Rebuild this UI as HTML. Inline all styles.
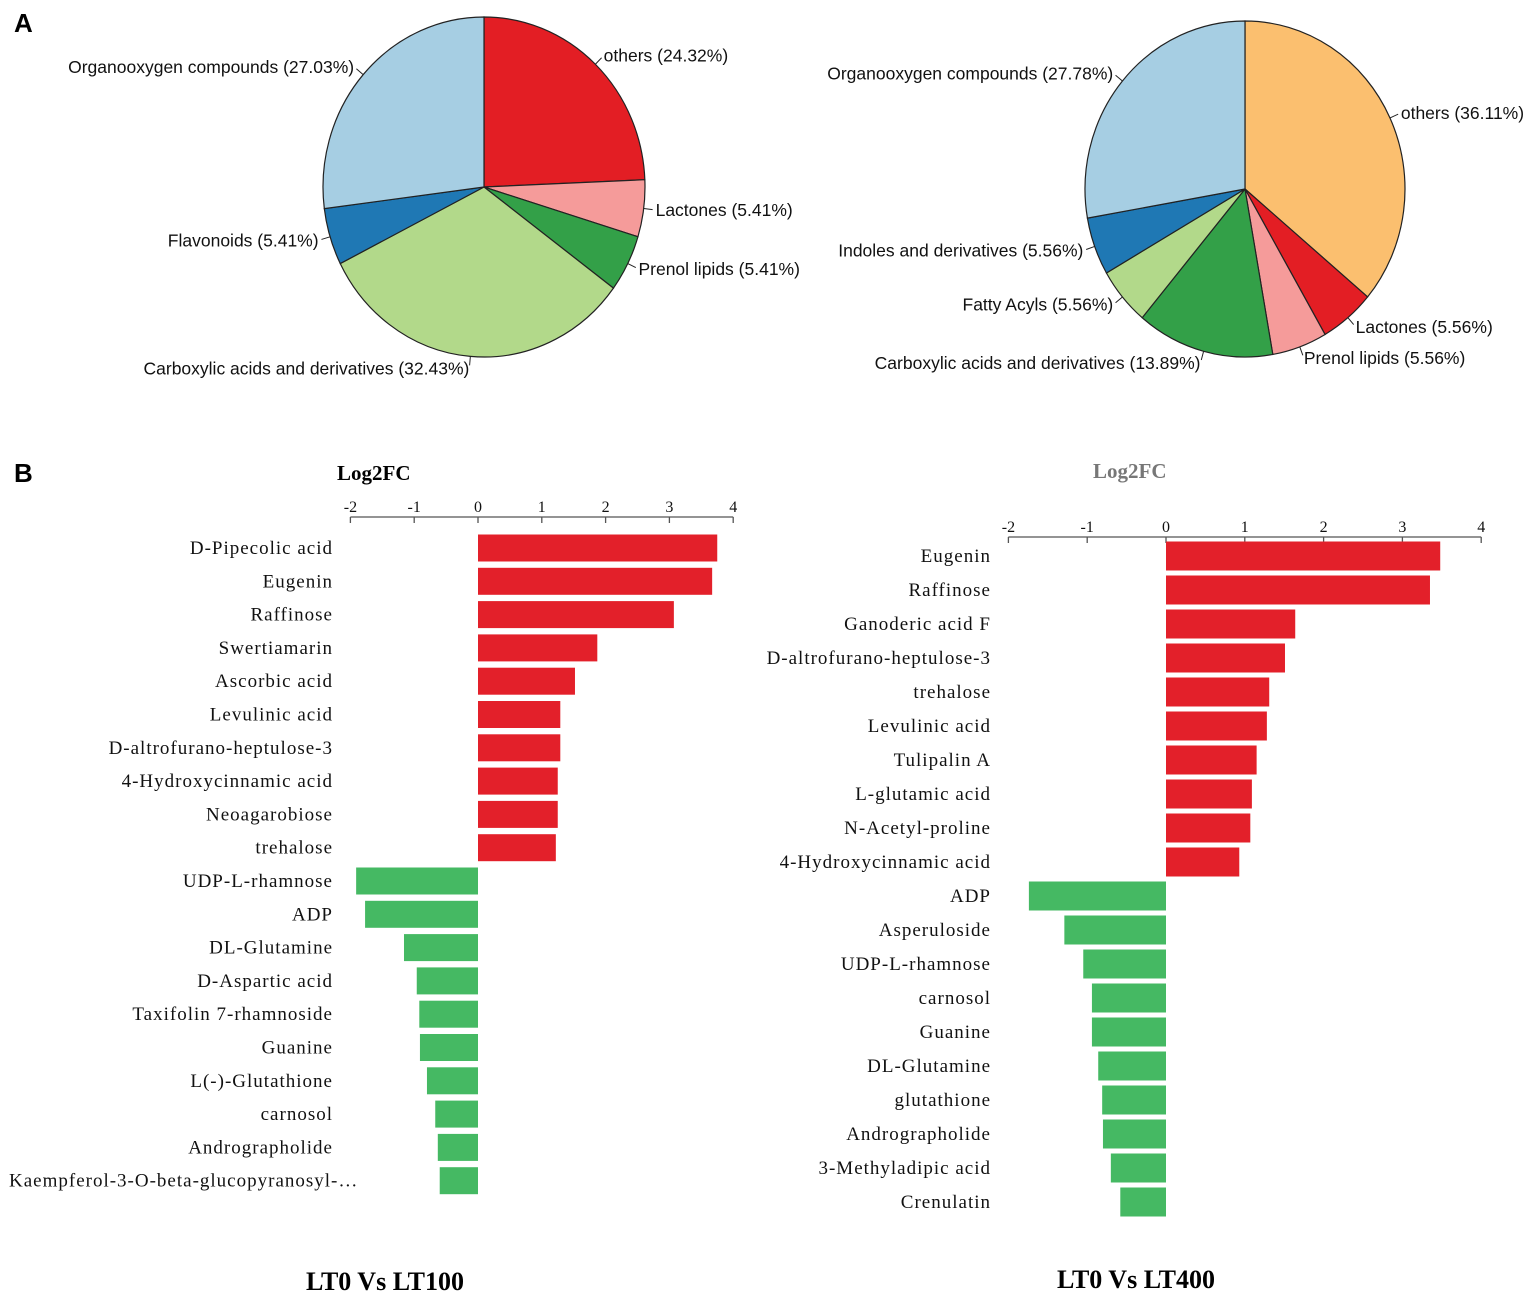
<!DOCTYPE html>
<html><head><meta charset="utf-8">
<style>
html,body{margin:0;padding:0;background:#fff;}
svg{display:block;}
.pl{font-family:"Liberation Sans",sans-serif;font-size:17.5px;fill:#111;}
.bl{font-family:"Liberation Serif",serif;font-size:19px;fill:#111;letter-spacing:1px;}
.tk{font-family:"Liberation Serif",serif;font-size:16px;fill:#111;}
</style></head>
<body>
<svg id="c" width="1535" height="1304" xmlns="http://www.w3.org/2000/svg">
<text x="14" y="32" font-family="Liberation Sans,sans-serif" font-size="26" font-weight="bold">A</text>
<text x="14" y="482" font-family="Liberation Sans,sans-serif" font-size="26" font-weight="bold">B</text>
<text x="337" y="480" font-family="Liberation Serif,serif" font-size="21" font-weight="bold">Log2FC</text>
<text x="1093" y="478" font-family="Liberation Serif,serif" font-size="21" font-weight="bold" fill="#777">Log2FC</text>
<text x="385" y="1290" text-anchor="middle" font-family="Liberation Serif,serif" font-size="26" font-weight="bold">LT0 Vs LT100</text>
<text x="1136" y="1288" text-anchor="middle" font-family="Liberation Serif,serif" font-size="26" font-weight="bold">LT0 Vs LT400</text>
</svg>
<script>
const pie1Labels=["others (24.32%)","Lactones (5.41%)","Prenol lipids (5.41%)","Carboxylic acids and derivatives (32.43%)","Flavonoids (5.41%)","Organooxygen compounds (27.03%)"];
const pie1Values=[24.32,5.41,5.41,32.43,5.41,27.03];
const pie1Colors=["#e31e24","#f59b9a","#33a048","#b2d98a","#1f78b4","#a6cee3"];
const pie2Labels=["others (36.11%)","Lactones (5.56%)","Prenol lipids (5.56%)","Carboxylic acids and derivatives (13.89%)","Fatty Acyls (5.56%)","Indoles and derivatives (5.56%)","Organooxygen compounds (27.78%)"];
const pie2Values=[36.11,5.56,5.56,13.89,5.56,5.56,27.78];
const pie2Colors=["#fbbf6f","#e31e24","#f59b9a","#33a048","#b2d98a","#1f78b4","#a6cee3"];
const bar1Names=["D-Pipecolic acid","Eugenin","Raffinose","Swertiamarin","Ascorbic acid","Levulinic acid","D-altrofurano-heptulose-3","4-Hydroxycinnamic acid","Neoagarobiose","trehalose","UDP-L-rhamnose","ADP","DL-Glutamine","D-Aspartic acid","Taxifolin 7-rhamnoside","Guanine","L(-)-Glutathione","carnosol","Andrographolide","Kaempferol-3-O-beta-glucopyranosyl-…"];
const bar1Values=[3.75,3.67,3.07,1.87,1.52,1.29,1.29,1.25,1.25,1.22,-1.91,-1.77,-1.16,-0.96,-0.92,-0.91,-0.8,-0.67,-0.63,-0.6];
const bar2Names=["Eugenin","Raffinose","Ganoderic acid F","D-altrofurano-heptulose-3","trehalose","Levulinic acid","Tulipalin A","L-glutamic acid","N-Acetyl-proline","4-Hydroxycinnamic acid","ADP","Asperuloside","UDP-L-rhamnose","carnosol","Guanine","DL-Glutamine","glutathione","Andrographolide","3-Methyladipic acid","Crenulatin"];
const bar2Values=[3.48,3.35,1.64,1.51,1.31,1.28,1.15,1.09,1.07,0.93,-1.74,-1.29,-1.05,-0.94,-0.94,-0.86,-0.81,-0.8,-0.7,-0.58];
const tickVals=["-2","-1","0","1","2","3","4"];

const svg=document.getElementById('c');
const NS="http://www.w3.org/2000/svg";
function mk(t,a){const e=document.createElementNS(NS,t);for(const k in a)e.setAttribute(k,a[k]);svg.appendChild(e);return e;}

function pie(cx,cy,rx,ry,vals,cols,labs,name){
  const tot=vals.reduce((a,b)=>a+b,0);let a0=0;
  vals.forEach((v,i)=>{
    const a1=a0+v/tot*2*Math.PI;
    const p=(a)=>[cx+rx*Math.sin(a),cy-ry*Math.cos(a)];
    const [x0,y0]=p(a0),[x1,y1]=p(a1);
    const large=(a1-a0)>Math.PI?1:0;
    const s=mk('path',{d:`M${cx},${cy}L${x0},${y0}A${rx},${ry} 0 ${large} 1 ${x1},${y1}Z`,fill:cols[i],stroke:'#222','stroke-width':1.2});
    
    
    const am=(a0+a1)/2,sn=Math.sin(am),cs=-Math.cos(am);
    mk('line',{x1:cx+rx*sn,y1:cy+ry*cs,x2:cx+(rx+9)*sn,y2:cy+(ry+9)*cs,stroke:'#222','stroke-width':1});
    const t=mk('text',{x:cx+(rx+12)*sn,y:cy+(ry+12)*cs+6,'text-anchor':sn>=0?'start':'end',class:'pl'});
    t.textContent=labs[i];
    
    
    a0=a1;
  });
}
pie(484,187,161,170,pie1Values,pie1Colors,pie1Labels,'pie-lt100');
pie(1245,189,160,168,pie2Values,pie2Colors,pie2Labels,'pie-lt400');

function bars(x0,unit,axisY,row0,step,bh,names,vals,name,labelX){
  const X=v=>x0+v*unit;
  mk('line',{x1:X(-2),y1:axisY,x2:X(4),y2:axisY,stroke:'#555','stroke-width':1.3});
  tickVals.forEach(tv=>{
    const v=+tv;
    mk('line',{x1:X(v),y1:axisY,x2:X(v),y2:axisY+6,stroke:'#555','stroke-width':1.3});
    const t=mk('text',{x:X(v),y:axisY-5,'text-anchor':'middle',class:'tk'});
    t.textContent=tv;
    
    
  });
  names.forEach((n,i)=>{
    const cy=row0+i*step,v=vals[i];
    const b=mk('rect',{x:Math.min(X(0),X(v)),y:cy-bh/2,width:Math.abs(X(v)-X(0)),height:bh,fill:v>=0?'#e3202a':'#45b963'});
    
    
    const long=n.length>30;
    const t=mk('text',{x:long?9:labelX,y:cy+6,'text-anchor':long?'start':'end',class:'bl'});
    t.textContent=n;
    
    
  });
}
bars(478,63.8,517,548,33.3,27,bar1Names,bar1Values,'lt100',333);
bars(1166,78.8,537,556,34,29,bar2Names,bar2Values,'lt400',991);
</script>
</body></html>
